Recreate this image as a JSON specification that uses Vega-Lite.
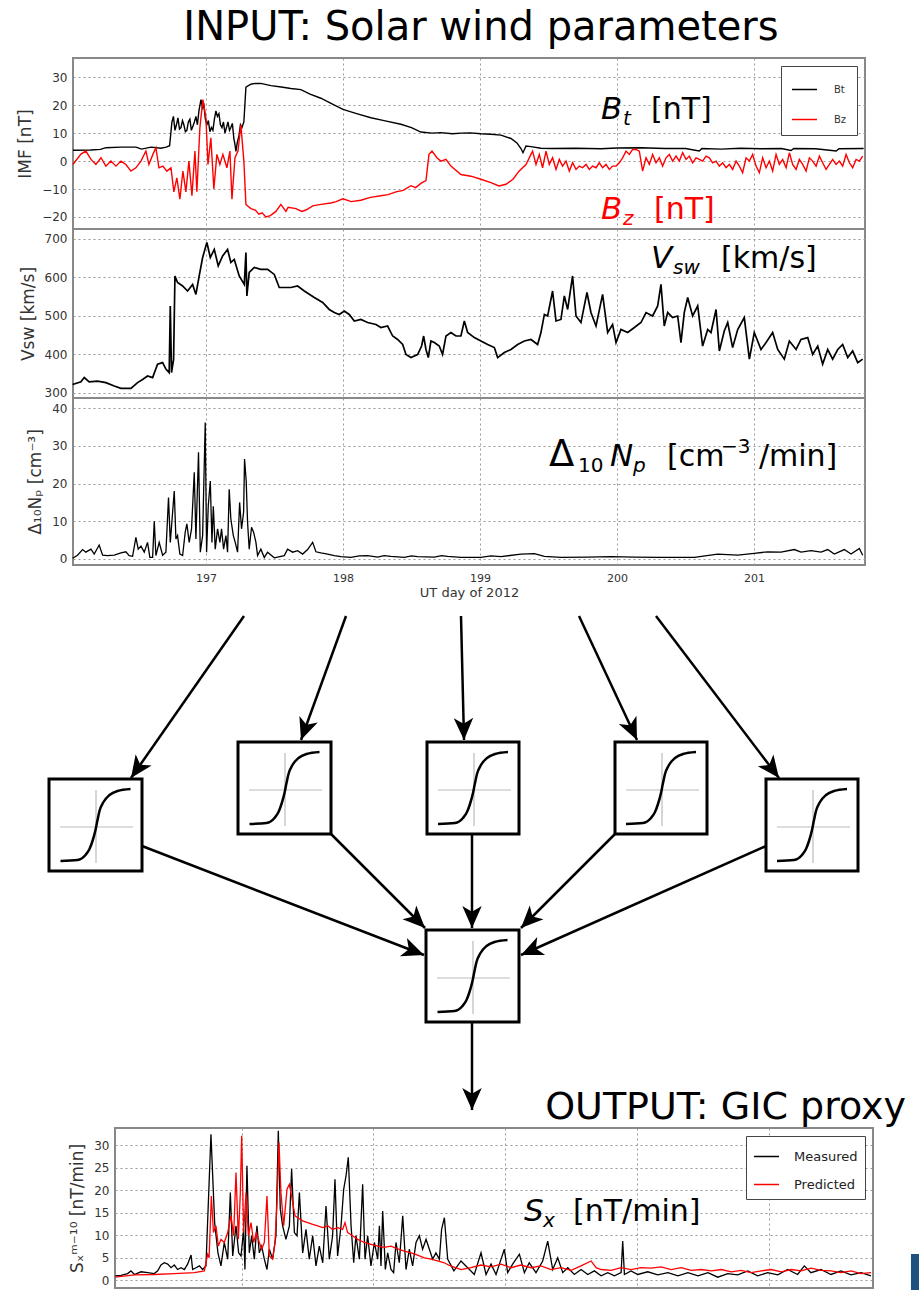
{
"$schema":"https://vega.github.io/schema/vega-lite/v6.json",
"background":"white",
"padding":0,
"autosize":{"type":"pad"},
"spacing":0,
"bounds":"flush",
"config":{
 "font":"DejaVu Sans",
 "view":{"stroke":"#888","strokeWidth":2},
 "axis":{"grid":true,"gridDash":[2,3],"gridColor":"#999","gridWidth":1,"ticks":false,"tickSize":0,"domain":false,"labelOverlap":false,"labelFont":"DejaVu Sans","labelFontSize":12,"labelColor":"#333","labelPadding":6,"titleFont":"DejaVu Sans","titleFontSize":17,"titleFontWeight":"normal","titleColor":"#333","titlePadding":7},
 "text":{"font":"DejaVu Sans","align":"left","baseline":"alphabetic"}
},
"resolve":{"scale":{"x":"independent","y":"independent","color":"independent"},"legend":{"color":"independent"},"axis":{"x":"independent","y":"independent"}},
"datasets":{
"imf":[
{"s":"Bt","t":196.03,"v":3.9},{"s":"Bt","t":196.16,"v":4},{"s":"Bt","t":196.23,"v":4.2},{"s":"Bt","t":196.27,"v":4.8},{"s":"Bt","t":196.38,"v":5},{"s":"Bt","t":196.49,"v":5},{"s":"Bt","t":196.53,"v":4.3},{"s":"Bt","t":196.6,"v":5},{"s":"Bt","t":196.67,"v":4.6},{"s":"Bt","t":196.71,"v":5},{"s":"Bt","t":196.735,"v":5.5},{"s":"Bt","t":196.752,"v":14},{"s":"Bt","t":196.763,"v":16},{"s":"Bt","t":196.774,"v":11},{"s":"Bt","t":196.785,"v":13},{"s":"Bt","t":196.796,"v":15.5},{"s":"Bt","t":196.807,"v":11.5},{"s":"Bt","t":196.818,"v":12},{"s":"Bt","t":196.829,"v":14.5},{"s":"Bt","t":196.839,"v":13},{"s":"Bt","t":196.85,"v":10.5},{"s":"Bt","t":196.861,"v":11},{"s":"Bt","t":196.872,"v":14},{"s":"Bt","t":196.883,"v":15},{"s":"Bt","t":196.894,"v":11},{"s":"Bt","t":196.905,"v":12.5},{"s":"Bt","t":196.916,"v":14},{"s":"Bt","t":196.927,"v":16},{"s":"Bt","t":196.938,"v":13},{"s":"Bt","t":196.949,"v":18},{"s":"Bt","t":196.964,"v":22},{"s":"Bt","t":196.975,"v":19},{"s":"Bt","t":196.985,"v":20},{"s":"Bt","t":196.996,"v":15},{"s":"Bt","t":197.007,"v":13},{"s":"Bt","t":197.018,"v":14.5},{"s":"Bt","t":197.029,"v":10.5},{"s":"Bt","t":197.04,"v":12},{"s":"Bt","t":197.051,"v":11},{"s":"Bt","t":197.062,"v":15},{"s":"Bt","t":197.073,"v":18},{"s":"Bt","t":197.084,"v":16},{"s":"Bt","t":197.095,"v":17},{"s":"Bt","t":197.106,"v":13},{"s":"Bt","t":197.117,"v":12},{"s":"Bt","t":197.128,"v":14},{"s":"Bt","t":197.139,"v":10},{"s":"Bt","t":197.15,"v":12},{"s":"Bt","t":197.161,"v":14},{"s":"Bt","t":197.172,"v":11},{"s":"Bt","t":197.182,"v":12},{"s":"Bt","t":197.193,"v":13.5},{"s":"Bt","t":197.204,"v":8},{"s":"Bt","t":197.212,"v":6},{"s":"Bt","t":197.219,"v":3.5},{"s":"Bt","t":197.23,"v":7},{"s":"Bt","t":197.241,"v":9},{"s":"Bt","t":197.252,"v":13},{"s":"Bt","t":197.263,"v":12},{"s":"Bt","t":197.277,"v":14},{"s":"Bt","t":197.292,"v":26.5},{"s":"Bt","t":197.328,"v":27.5},{"s":"Bt","t":197.36,"v":27.8},{"s":"Bt","t":197.401,"v":27.8},{"s":"Bt","t":197.474,"v":27},{"s":"Bt","t":197.55,"v":26.5},{"s":"Bt","t":197.62,"v":26},{"s":"Bt","t":197.693,"v":25.6},{"s":"Bt","t":197.76,"v":24},{"s":"Bt","t":197.839,"v":22.5},{"s":"Bt","t":197.92,"v":20.5},{"s":"Bt","t":198.0,"v":18.5},{"s":"Bt","t":198.1,"v":17},{"s":"Bt","t":198.204,"v":15.5},{"s":"Bt","t":198.3,"v":14.5},{"s":"Bt","t":198.423,"v":13.2},{"s":"Bt","t":198.5,"v":12},{"s":"Bt","t":198.569,"v":10.4},{"s":"Bt","t":198.65,"v":10},{"s":"Bt","t":198.715,"v":10.2},{"s":"Bt","t":198.8,"v":9.8},{"s":"Bt","t":198.861,"v":10},{"s":"Bt","t":198.93,"v":10.1},{"s":"Bt","t":199.007,"v":9.8},{"s":"Bt","t":199.08,"v":9.6},{"s":"Bt","t":199.153,"v":9.3},{"s":"Bt","t":199.226,"v":8.1},{"s":"Bt","t":199.27,"v":6.5},{"s":"Bt","t":199.299,"v":4.5},{"s":"Bt","t":199.314,"v":3},{"s":"Bt","t":199.336,"v":5.4},{"s":"Bt","t":199.372,"v":5.2},{"s":"Bt","t":199.445,"v":4.6},{"s":"Bt","t":199.518,"v":4.5},{"s":"Bt","t":199.7,"v":4.6},{"s":"Bt","t":199.883,"v":4.4},{"s":"Bt","t":200.0,"v":4.7},{"s":"Bt","t":200.175,"v":4.8},{"s":"Bt","t":200.35,"v":4.5},{"s":"Bt","t":200.5,"v":4.5},{"s":"Bt","t":200.6,"v":3.6},{"s":"Bt","t":200.62,"v":4.5},{"s":"Bt","t":200.759,"v":4.3},{"s":"Bt","t":200.9,"v":4.6},{"s":"Bt","t":201.051,"v":4.4},{"s":"Bt","t":201.2,"v":4.5},{"s":"Bt","t":201.27,"v":3.8},{"s":"Bt","t":201.29,"v":4.5},{"s":"Bt","t":201.45,"v":4.4},{"s":"Bt","t":201.6,"v":3.6},{"s":"Bt","t":201.62,"v":4.4},{"s":"Bt","t":201.8,"v":4.5},
{"s":"Bz","t":196.029,"v":-1.2},{"s":"Bz","t":196.088,"v":2.5},{"s":"Bz","t":196.124,"v":3.6},{"s":"Bz","t":196.161,"v":0.6},{"s":"Bz","t":196.197,"v":-1.2},{"s":"Bz","t":196.234,"v":1.2},{"s":"Bz","t":196.27,"v":-1.8},{"s":"Bz","t":196.307,"v":0},{"s":"Bz","t":196.343,"v":-1.8},{"s":"Bz","t":196.38,"v":0},{"s":"Bz","t":196.416,"v":-1.2},{"s":"Bz","t":196.453,"v":-3.6},{"s":"Bz","t":196.489,"v":-2.4},{"s":"Bz","t":196.526,"v":0},{"s":"Bz","t":196.562,"v":3.6},{"s":"Bz","t":196.584,"v":-1.2},{"s":"Bz","t":196.613,"v":2.4},{"s":"Bz","t":196.635,"v":4.8},{"s":"Bz","t":196.657,"v":-2.4},{"s":"Bz","t":196.686,"v":-1.8},{"s":"Bz","t":196.715,"v":-3.6},{"s":"Bz","t":196.745,"v":-2.4},{"s":"Bz","t":196.766,"v":-11},{"s":"Bz","t":196.788,"v":-6},{"s":"Bz","t":196.81,"v":-13.6},{"s":"Bz","t":196.832,"v":-3.6},{"s":"Bz","t":196.854,"v":-11},{"s":"Bz","t":196.876,"v":0},{"s":"Bz","t":196.898,"v":-12.4},{"s":"Bz","t":196.92,"v":3.6},{"s":"Bz","t":196.934,"v":-11},{"s":"Bz","t":196.956,"v":12},{"s":"Bz","t":196.978,"v":22},{"s":"Bz","t":197.0,"v":15.5},{"s":"Bz","t":197.015,"v":-1.2},{"s":"Bz","t":197.036,"v":8.3},{"s":"Bz","t":197.058,"v":-10},{"s":"Bz","t":197.08,"v":2.4},{"s":"Bz","t":197.102,"v":-1.2},{"s":"Bz","t":197.124,"v":2.4},{"s":"Bz","t":197.153,"v":-2.4},{"s":"Bz","t":197.175,"v":3.6},{"s":"Bz","t":197.19,"v":-13.6},{"s":"Bz","t":197.212,"v":1.2},{"s":"Bz","t":197.234,"v":3.6},{"s":"Bz","t":197.255,"v":13},{"s":"Bz","t":197.277,"v":0},{"s":"Bz","t":197.292,"v":-15.5},{"s":"Bz","t":197.328,"v":-17},{"s":"Bz","t":197.36,"v":-17.5},{"s":"Bz","t":197.387,"v":-19},{"s":"Bz","t":197.41,"v":-18.5},{"s":"Bz","t":197.438,"v":-20},{"s":"Bz","t":197.47,"v":-19.5},{"s":"Bz","t":197.511,"v":-18},{"s":"Bz","t":197.547,"v":-15.5},{"s":"Bz","t":197.584,"v":-18},{"s":"Bz","t":197.6,"v":-16.5},{"s":"Bz","t":197.657,"v":-17},{"s":"Bz","t":197.7,"v":-18},{"s":"Bz","t":197.73,"v":-17.5},{"s":"Bz","t":197.78,"v":-16},{"s":"Bz","t":197.839,"v":-15.5},{"s":"Bz","t":197.912,"v":-15},{"s":"Bz","t":197.95,"v":-14.5},{"s":"Bz","t":198.0,"v":-13.5},{"s":"Bz","t":198.06,"v":-14.5},{"s":"Bz","t":198.131,"v":-14},{"s":"Bz","t":198.2,"v":-13},{"s":"Bz","t":198.277,"v":-12.4},{"s":"Bz","t":198.33,"v":-12},{"s":"Bz","t":198.387,"v":-11},{"s":"Bz","t":198.44,"v":-10.5},{"s":"Bz","t":198.496,"v":-8.8},{"s":"Bz","t":198.53,"v":-9.5},{"s":"Bz","t":198.569,"v":-8},{"s":"Bz","t":198.606,"v":-7},{"s":"Bz","t":198.628,"v":2.4},{"s":"Bz","t":198.65,"v":3.6},{"s":"Bz","t":198.686,"v":1.2},{"s":"Bz","t":198.715,"v":0},{"s":"Bz","t":198.752,"v":0.6},{"s":"Bz","t":198.788,"v":-1.8},{"s":"Bz","t":198.861,"v":-4.8},{"s":"Bz","t":198.934,"v":-5.4},{"s":"Bz","t":199.007,"v":-6.5},{"s":"Bz","t":199.08,"v":-7.7},{"s":"Bz","t":199.139,"v":-8.9},{"s":"Bz","t":199.19,"v":-8.3},{"s":"Bz","t":199.241,"v":-6.5},{"s":"Bz","t":199.285,"v":-3.6},{"s":"Bz","t":199.336,"v":-1.2},{"s":"Bz","t":199.372,"v":2.4},
{"s":"Bz","t":199.384,"v":3.57},{"s":"Bz","t":199.409,"v":-1.19},{"s":"Bz","t":199.433,"v":2.38},{"s":"Bz","t":199.457,"v":-2.38},{"s":"Bz","t":199.482,"v":3.57},{"s":"Bz","t":199.506,"v":-1.19},{"s":"Bz","t":199.53,"v":1.19},{"s":"Bz","t":199.555,"v":-2.98},{"s":"Bz","t":199.579,"v":0.6},{"s":"Bz","t":199.603,"v":-1.79},{"s":"Bz","t":199.628,"v":0},{"s":"Bz","t":199.652,"v":-3.57},{"s":"Bz","t":199.676,"v":-0.6},{"s":"Bz","t":199.701,"v":-2.98},{"s":"Bz","t":199.725,"v":-1.79},{"s":"Bz","t":199.749,"v":-2.38},{"s":"Bz","t":199.774,"v":-1.19},{"s":"Bz","t":199.798,"v":-2.98},{"s":"Bz","t":199.822,"v":-1.79},{"s":"Bz","t":199.847,"v":-2.38},{"s":"Bz","t":199.871,"v":-0.6},{"s":"Bz","t":199.895,"v":-2.38},{"s":"Bz","t":199.92,"v":-1.19},{"s":"Bz","t":199.944,"v":-2.98},{"s":"Bz","t":199.968,"v":-1.79},{"s":"Bz","t":199.993,"v":-1.79},{"s":"Bz","t":200.017,"v":-0.6},{"s":"Bz","t":200.041,"v":1.19},{"s":"Bz","t":200.066,"v":3.57},{"s":"Bz","t":200.09,"v":2.38},{"s":"Bz","t":200.114,"v":4.17},{"s":"Bz","t":200.139,"v":4.17},{"s":"Bz","t":200.163,"v":3.57},{"s":"Bz","t":200.187,"v":-3.57},{"s":"Bz","t":200.212,"v":1.19},{"s":"Bz","t":200.236,"v":-1.19},{"s":"Bz","t":200.26,"v":2.38},{"s":"Bz","t":200.285,"v":-0.6},{"s":"Bz","t":200.309,"v":1.19},{"s":"Bz","t":200.333,"v":-1.79},{"s":"Bz","t":200.358,"v":1.19},{"s":"Bz","t":200.382,"v":2.38},{"s":"Bz","t":200.406,"v":0},{"s":"Bz","t":200.431,"v":1.79},{"s":"Bz","t":200.455,"v":0},{"s":"Bz","t":200.479,"v":2.98},{"s":"Bz","t":200.504,"v":0.6},{"s":"Bz","t":200.528,"v":1.79},{"s":"Bz","t":200.552,"v":-0.6},{"s":"Bz","t":200.577,"v":1.19},{"s":"Bz","t":200.601,"v":0.6},{"s":"Bz","t":200.625,"v":0},{"s":"Bz","t":200.65,"v":1.79},{"s":"Bz","t":200.674,"v":1.19},{"s":"Bz","t":200.698,"v":-0.6},{"s":"Bz","t":200.723,"v":0},{"s":"Bz","t":200.747,"v":-1.79},{"s":"Bz","t":200.771,"v":-0.6},{"s":"Bz","t":200.796,"v":-2.38},{"s":"Bz","t":200.82,"v":-1.19},{"s":"Bz","t":200.844,"v":-2.98},{"s":"Bz","t":200.869,"v":0},{"s":"Bz","t":200.893,"v":-1.79},{"s":"Bz","t":200.917,"v":-4.17},{"s":"Bz","t":200.942,"v":1.19},{"s":"Bz","t":200.966,"v":0},{"s":"Bz","t":200.99,"v":2.38},{"s":"Bz","t":201.015,"v":-1.79},{"s":"Bz","t":201.039,"v":-4.17},{"s":"Bz","t":201.063,"v":1.19},{"s":"Bz","t":201.088,"v":-2.38},{"s":"Bz","t":201.112,"v":0},{"s":"Bz","t":201.136,"v":-3.57},{"s":"Bz","t":201.161,"v":2.38},{"s":"Bz","t":201.185,"v":-1.19},{"s":"Bz","t":201.209,"v":0.6},{"s":"Bz","t":201.234,"v":-2.38},{"s":"Bz","t":201.258,"v":2.98},{"s":"Bz","t":201.282,"v":-1.19},{"s":"Bz","t":201.307,"v":-2.98},{"s":"Bz","t":201.331,"v":0.6},{"s":"Bz","t":201.355,"v":-1.19},{"s":"Bz","t":201.38,"v":-3.57},{"s":"Bz","t":201.404,"v":1.19},{"s":"Bz","t":201.428,"v":0},{"s":"Bz","t":201.453,"v":-1.79},{"s":"Bz","t":201.477,"v":1.79},{"s":"Bz","t":201.501,"v":-0.6},{"s":"Bz","t":201.526,"v":-2.98},{"s":"Bz","t":201.55,"v":-1.19},{"s":"Bz","t":201.574,"v":0.6},{"s":"Bz","t":201.599,"v":-1.19},{"s":"Bz","t":201.623,"v":0},{"s":"Bz","t":201.647,"v":-1.79},{"s":"Bz","t":201.672,"v":2.38},{"s":"Bz","t":201.696,"v":-0.6},{"s":"Bz","t":201.72,"v":-2.38},{"s":"Bz","t":201.745,"v":0.6},{"s":"Bz","t":201.769,"v":0},{"s":"Bz","t":201.793,"v":1.79}
],
"vsw":[
{"t":196.027,"v":321},{"t":196.088,"v":328},{"t":196.112,"v":339},{"t":196.148,"v":328},{"t":196.209,"v":330},{"t":196.27,"v":326},{"t":196.331,"v":317},{"t":196.38,"v":311},{"t":196.453,"v":311},{"t":196.501,"v":326},{"t":196.538,"v":334},{"t":196.574,"v":343},{"t":196.611,"v":339},{"t":196.647,"v":374},{"t":196.684,"v":378},{"t":196.708,"v":361},{"t":196.732,"v":352},{"t":196.74,"v":525},{"t":196.749,"v":352},{"t":196.764,"v":386},{"t":196.774,"v":603},{"t":196.793,"v":586},{"t":196.83,"v":577},{"t":196.866,"v":564},{"t":196.903,"v":581},{"t":196.927,"v":555},{"t":196.951,"v":603},{"t":196.976,"v":651},{"t":197.007,"v":690},{"t":197.032,"v":651},{"t":197.061,"v":672},{"t":197.09,"v":629},{"t":197.122,"v":655},{"t":197.158,"v":672},{"t":197.182,"v":638},{"t":197.207,"v":646},{"t":197.243,"v":603},{"t":197.28,"v":581},{"t":197.292,"v":664},{"t":197.299,"v":551},{"t":197.316,"v":612},{"t":197.353,"v":625},{"t":197.401,"v":620},{"t":197.45,"v":620},{"t":197.499,"v":607},{"t":197.535,"v":573},{"t":197.572,"v":573},{"t":197.62,"v":573},{"t":197.669,"v":577},{"t":197.718,"v":564},{"t":197.791,"v":547},{"t":197.852,"v":534},{"t":197.9,"v":516},{"t":197.937,"v":508},{"t":197.973,"v":503},{"t":198.01,"v":512},{"t":198.046,"v":503},{"t":198.083,"v":486},{"t":198.131,"v":490},{"t":198.18,"v":482},{"t":198.241,"v":477},{"t":198.277,"v":469},{"t":198.326,"v":473},{"t":198.363,"v":447},{"t":198.399,"v":438},{"t":198.436,"v":425},{"t":198.46,"v":399},{"t":198.496,"v":391},{"t":198.545,"v":399},{"t":198.574,"v":421},{"t":198.589,"v":447},{"t":198.606,"v":412},{"t":198.623,"v":391},{"t":198.642,"v":434},{"t":198.667,"v":430},{"t":198.703,"v":421},{"t":198.727,"v":399},{"t":198.752,"v":447},{"t":198.788,"v":456},{"t":198.825,"v":447},{"t":198.861,"v":447},{"t":198.886,"v":486},{"t":198.91,"v":456},{"t":198.959,"v":443},{"t":199.007,"v":434},{"t":199.056,"v":425},{"t":199.105,"v":417},{"t":199.129,"v":391},{"t":199.178,"v":404},{"t":199.226,"v":412},{"t":199.275,"v":425},{"t":199.324,"v":434},{"t":199.372,"v":438},{"t":199.421,"v":425},{"t":199.445,"v":456},{"t":199.47,"v":503},{"t":199.494,"v":499},{"t":199.53,"v":564},{"t":199.555,"v":486},{"t":199.591,"v":490},{"t":199.616,"v":551},{"t":199.64,"v":516},{"t":199.676,"v":603},{"t":199.701,"v":499},{"t":199.737,"v":482},{"t":199.781,"v":560},{"t":199.81,"v":508},{"t":199.847,"v":473},{"t":199.895,"v":555},{"t":199.932,"v":456},{"t":199.968,"v":477},{"t":199.993,"v":430},{"t":200.029,"v":464},{"t":200.078,"v":456},{"t":200.127,"v":469},{"t":200.175,"v":482},{"t":200.212,"v":508},{"t":200.26,"v":499},{"t":200.297,"v":525},{"t":200.321,"v":581},{"t":200.345,"v":473},{"t":200.37,"v":508},{"t":200.406,"v":495},{"t":200.443,"v":499},{"t":200.467,"v":430},{"t":200.491,"v":508},{"t":200.516,"v":547},{"t":200.552,"v":499},{"t":200.589,"v":525},{"t":200.625,"v":421},{"t":200.662,"v":464},{"t":200.686,"v":456},{"t":200.723,"v":516},{"t":200.747,"v":408},{"t":200.783,"v":460},{"t":200.808,"v":482},{"t":200.844,"v":417},{"t":200.881,"v":464},{"t":200.929,"v":495},{"t":200.966,"v":387},{"t":201.002,"v":456},{"t":201.051,"v":412},{"t":201.088,"v":430},{"t":201.136,"v":456},{"t":201.173,"v":412},{"t":201.221,"v":387},{"t":201.258,"v":434},{"t":201.307,"v":412},{"t":201.343,"v":438},{"t":201.392,"v":443},{"t":201.428,"v":399},{"t":201.465,"v":421},{"t":201.501,"v":374},{"t":201.538,"v":412},{"t":201.574,"v":387},{"t":201.611,"v":412},{"t":201.647,"v":425},{"t":201.684,"v":391},{"t":201.72,"v":408},{"t":201.757,"v":378},{"t":201.793,"v":387}
],
"np":[
{"t":196.027,"v":0.2},{"t":196.063,"v":1},{"t":196.1,"v":2.5},{"t":196.124,"v":1.8},{"t":196.161,"v":2.6},{"t":196.185,"v":1.3},{"t":196.221,"v":3.7},{"t":196.246,"v":1},{"t":196.282,"v":0.9},{"t":196.331,"v":1},{"t":196.38,"v":1.6},{"t":196.416,"v":1.9},{"t":196.44,"v":0.9},{"t":196.465,"v":0.7},{"t":196.489,"v":5.7},{"t":196.506,"v":2.6},{"t":196.526,"v":3.4},{"t":196.55,"v":1.8},{"t":196.574,"v":4.4},{"t":196.591,"v":0.4},{"t":196.611,"v":0.4},{"t":196.623,"v":10},{"t":196.635,"v":0.9},{"t":196.659,"v":4.4},{"t":196.684,"v":1},{"t":196.708,"v":1.8},{"t":196.727,"v":16.3},{"t":196.74,"v":4.4},{"t":196.757,"v":12.4},{"t":196.769,"v":18},{"t":196.781,"v":5.3},{"t":196.793,"v":6.2},{"t":196.81,"v":1.3},{"t":196.83,"v":0.9},{"t":196.849,"v":7.1},{"t":196.861,"v":9.3},{"t":196.878,"v":4.4},{"t":196.895,"v":8},{"t":196.915,"v":23},{"t":196.927,"v":5.3},{"t":196.946,"v":28.3},{"t":196.959,"v":1.8},{"t":196.976,"v":6.2},{"t":196.995,"v":36.2},{"t":197.005,"v":1.8},{"t":197.017,"v":14},{"t":197.032,"v":20.7},{"t":197.044,"v":4.4},{"t":197.054,"v":14},{"t":197.068,"v":2.6},{"t":197.085,"v":8},{"t":197.102,"v":4.4},{"t":197.114,"v":8},{"t":197.129,"v":2.6},{"t":197.146,"v":6.2},{"t":197.158,"v":1.8},{"t":197.17,"v":18.5},{"t":197.182,"v":10.6},{"t":197.2,"v":6.2},{"t":197.214,"v":4.4},{"t":197.231,"v":1.8},{"t":197.246,"v":15},{"t":197.26,"v":8},{"t":197.275,"v":12.4},{"t":197.282,"v":26.5},{"t":197.294,"v":20.7},{"t":197.304,"v":9.7},{"t":197.316,"v":2.6},{"t":197.333,"v":8.4},{"t":197.348,"v":7.1},{"t":197.365,"v":4.4},{"t":197.377,"v":0.9},{"t":197.401,"v":2.6},{"t":197.426,"v":0.4},{"t":197.45,"v":1.8},{"t":197.499,"v":0.3},{"t":197.572,"v":0.9},{"t":197.596,"v":2.6},{"t":197.633,"v":1.8},{"t":197.669,"v":2.2},{"t":197.706,"v":1.3},{"t":197.742,"v":2.5},{"t":197.779,"v":4.4},{"t":197.803,"v":1.9},{"t":197.839,"v":1.6},{"t":197.888,"v":1.3},{"t":197.937,"v":0.9},{"t":197.985,"v":0.6},{"t":198.058,"v":0.4},{"t":198.12,"v":0.8},{"t":198.18,"v":0.9},{"t":198.253,"v":0.5},{"t":198.3,"v":0.9},{"t":198.35,"v":0.7},{"t":198.448,"v":0.4},{"t":198.5,"v":0.8},{"t":198.545,"v":0.6},{"t":198.667,"v":0.5},{"t":198.72,"v":0.9},{"t":198.764,"v":0.7},{"t":198.861,"v":0.4},{"t":199.007,"v":0.4},{"t":199.08,"v":0.8},{"t":199.153,"v":0.6},{"t":199.299,"v":1.3},{"t":199.397,"v":1.4},{"t":199.47,"v":0.7},{"t":199.591,"v":0.4},{"t":199.786,"v":0.5},{"t":199.956,"v":0.6},{"t":200.127,"v":0.5},{"t":200.321,"v":0.4},{"t":200.564,"v":0.4},{"t":200.735,"v":1.3},{"t":200.881,"v":1},{"t":201.002,"v":1.5},{"t":201.1,"v":1.9},{"t":201.197,"v":1.8},{"t":201.294,"v":2.5},{"t":201.343,"v":1.8},{"t":201.416,"v":2.2},{"t":201.489,"v":1.8},{"t":201.538,"v":2.5},{"t":201.586,"v":1.3},{"t":201.659,"v":2.5},{"t":201.708,"v":1.3},{"t":201.769,"v":2.8},{"t":201.793,"v":1}
],
"sx":[
{"s":"Measured","t":196.041,"v":1},{"s":"Measured","t":196.084,"v":1.1},{"s":"Measured","t":196.135,"v":1.5},{"s":"Measured","t":196.16,"v":2.1},{"s":"Measured","t":196.186,"v":1.3},{"s":"Measured","t":196.236,"v":1.9},{"s":"Measured","t":196.287,"v":1.7},{"s":"Measured","t":196.337,"v":1.5},{"s":"Measured","t":196.363,"v":2.1},{"s":"Measured","t":196.388,"v":3.4},{"s":"Measured","t":196.413,"v":3.9},{"s":"Measured","t":196.439,"v":3.6},{"s":"Measured","t":196.464,"v":2.8},{"s":"Measured","t":196.489,"v":3.4},{"s":"Measured","t":196.514,"v":2.4},{"s":"Measured","t":196.54,"v":2.8},{"s":"Measured","t":196.565,"v":2.4},{"s":"Measured","t":196.59,"v":3.6},{"s":"Measured","t":196.616,"v":5.6},{"s":"Measured","t":196.628,"v":2.4},{"s":"Measured","t":196.654,"v":2.8},{"s":"Measured","t":196.679,"v":3.2},{"s":"Measured","t":196.704,"v":2.4},{"s":"Measured","t":196.729,"v":3.2},{"s":"Measured","t":196.767,"v":32.4},{"s":"Measured","t":196.795,"v":12.8},{"s":"Measured","t":196.82,"v":6.1},{"s":"Measured","t":196.843,"v":3.2},{"s":"Measured","t":196.868,"v":8.4},{"s":"Measured","t":196.894,"v":4.7},{"s":"Measured","t":196.914,"v":19.5},{"s":"Measured","t":196.932,"v":5.4},{"s":"Measured","t":196.957,"v":12.1},{"s":"Measured","t":196.977,"v":6.1},{"s":"Measured","t":196.995,"v":5.4},{"s":"Measured","t":197.015,"v":11.3},{"s":"Measured","t":197.025,"v":2.4},{"s":"Measured","t":197.04,"v":25.4},{"s":"Measured","t":197.058,"v":6.1},{"s":"Measured","t":197.076,"v":9.9},{"s":"Measured","t":197.096,"v":4.7},{"s":"Measured","t":197.116,"v":12.1},{"s":"Measured","t":197.134,"v":6.1},{"s":"Measured","t":197.152,"v":7.6},{"s":"Measured","t":197.172,"v":4.7},{"s":"Measured","t":197.192,"v":2.4},{"s":"Measured","t":197.21,"v":6.9},{"s":"Measured","t":197.235,"v":4.7},{"s":"Measured","t":197.26,"v":9.9},{"s":"Measured","t":197.278,"v":33.2},{"s":"Measured","t":197.293,"v":15.8},{"s":"Measured","t":197.311,"v":12.1},{"s":"Measured","t":197.336,"v":9.1},{"s":"Measured","t":197.362,"v":12.1},{"s":"Measured","t":197.379,"v":24.7},{"s":"Measured","t":197.4,"v":10.6},{"s":"Measured","t":197.42,"v":9.9},{"s":"Measured","t":197.438,"v":19.5},{"s":"Measured","t":197.463,"v":6.1},{"s":"Measured","t":197.488,"v":11.3},{"s":"Measured","t":197.513,"v":4.7},{"s":"Measured","t":197.539,"v":9.9},{"s":"Measured","t":197.564,"v":3.2},{"s":"Measured","t":197.589,"v":7.6},{"s":"Measured","t":197.615,"v":3.9},{"s":"Measured","t":197.64,"v":16.5},{"s":"Measured","t":197.665,"v":4.7},{"s":"Measured","t":197.69,"v":9.9},{"s":"Measured","t":197.708,"v":22.4},{"s":"Measured","t":197.728,"v":5.4},{"s":"Measured","t":197.754,"v":12.1},{"s":"Measured","t":197.774,"v":20.2},{"s":"Measured","t":197.792,"v":23.2},{"s":"Measured","t":197.809,"v":27.3},{"s":"Measured","t":197.83,"v":12.1},{"s":"Measured","t":197.85,"v":3.9},{"s":"Measured","t":197.867,"v":9.9},{"s":"Measured","t":197.893,"v":4.7},{"s":"Measured","t":197.918,"v":21.3},{"s":"Measured","t":197.936,"v":4.7},{"s":"Measured","t":197.956,"v":9.9},{"s":"Measured","t":197.981,"v":3.2},{"s":"Measured","t":198.007,"v":8.4},{"s":"Measured","t":198.032,"v":4.7},{"s":"Measured","t":198.045,"v":12.1},{"s":"Measured","t":198.057,"v":3.2},{"s":"Measured","t":198.07,"v":15.4},{"s":"Measured","t":198.09,"v":2.4},{"s":"Measured","t":198.108,"v":6.1},{"s":"Measured","t":198.133,"v":2.4},{"s":"Measured","t":198.153,"v":1.7},{"s":"Measured","t":198.171,"v":8.4},{"s":"Measured","t":198.196,"v":3.9},{"s":"Measured","t":198.222,"v":14.3},{"s":"Measured","t":198.247,"v":2.4},{"s":"Measured","t":198.272,"v":6.9},{"s":"Measured","t":198.297,"v":3.2},{"s":"Measured","t":198.323,"v":8.4},{"s":"Measured","t":198.348,"v":9.9},{"s":"Measured","t":198.373,"v":6.9},{"s":"Measured","t":198.399,"v":9.1},{"s":"Measured","t":198.424,"v":6.9},{"s":"Measured","t":198.449,"v":4.7},{"s":"Measured","t":198.474,"v":6.1},{"s":"Measured","t":198.5,"v":4.7},{"s":"Measured","t":198.517,"v":11.3},{"s":"Measured","t":198.538,"v":13.9},{"s":"Measured","t":198.563,"v":4.7},{"s":"Measured","t":198.61,"v":2.1},{"s":"Measured","t":198.664,"v":4.3},{"s":"Measured","t":198.715,"v":2.8},{"s":"Measured","t":198.765,"v":1.3},{"s":"Measured","t":198.816,"v":6.1},{"s":"Measured","t":198.854,"v":1.3},{"s":"Measured","t":198.892,"v":3.6},{"s":"Measured","t":198.93,"v":1.3},{"s":"Measured","t":198.968,"v":4.7},{"s":"Measured","t":198.993,"v":6.9},{"s":"Measured","t":199.018,"v":1.7},{"s":"Measured","t":199.056,"v":3.6},{"s":"Measured","t":199.107,"v":5.8},{"s":"Measured","t":199.145,"v":1.7},{"s":"Measured","t":199.182,"v":3.9},{"s":"Measured","t":199.233,"v":1.7},{"s":"Measured","t":199.284,"v":4.3},{"s":"Measured","t":199.322,"v":8.7},{"s":"Measured","t":199.36,"v":2.4},{"s":"Measured","t":199.398,"v":5},{"s":"Measured","t":199.436,"v":1.7},{"s":"Measured","t":199.474,"v":2.8},{"s":"Measured","t":199.524,"v":1.3},{"s":"Measured","t":199.575,"v":2.4},{"s":"Measured","t":199.626,"v":1.3},{"s":"Measured","t":199.676,"v":2.1},{"s":"Measured","t":199.727,"v":1},{"s":"Measured","t":199.778,"v":1.7},{"s":"Measured","t":199.828,"v":1},{"s":"Measured","t":199.879,"v":1.7},{"s":"Measured","t":199.891,"v":8.7},{"s":"Measured","t":199.904,"v":1.3},{"s":"Measured","t":199.954,"v":2.1},{"s":"Measured","t":200.005,"v":1.3},{"s":"Measured","t":200.081,"v":1.9},{"s":"Measured","t":200.157,"v":1.2},{"s":"Measured","t":200.234,"v":1.7},{"s":"Measured","t":200.31,"v":1},{"s":"Measured","t":200.386,"v":1.7},{"s":"Measured","t":200.462,"v":1},{"s":"Measured","t":200.538,"v":1.7},{"s":"Measured","t":200.612,"v":0.7},{"s":"Measured","t":200.688,"v":1.5},{"s":"Measured","t":200.764,"v":1.2},{"s":"Measured","t":200.84,"v":2.1},{"s":"Measured","t":200.915,"v":1},{"s":"Measured","t":200.991,"v":1.7},{"s":"Measured","t":201.067,"v":1.2},{"s":"Measured","t":201.142,"v":2.4},{"s":"Measured","t":201.218,"v":1.3},{"s":"Measured","t":201.269,"v":3.2},{"s":"Measured","t":201.319,"v":1.7},{"s":"Measured","t":201.395,"v":2.4},{"s":"Measured","t":201.471,"v":1.3},{"s":"Measured","t":201.547,"v":2.1},{"s":"Measured","t":201.623,"v":1.2},{"s":"Measured","t":201.699,"v":1.7},{"s":"Measured","t":201.775,"v":1},
{"s":"Predicted","t":196.041,"v":0.7},{"s":"Predicted","t":196.186,"v":1.2},{"s":"Predicted","t":196.337,"v":1.3},{"s":"Predicted","t":196.489,"v":1.5},{"s":"Predicted","t":196.641,"v":1.7},{"s":"Predicted","t":196.717,"v":2.1},{"s":"Predicted","t":196.742,"v":5.8},{"s":"Predicted","t":196.753,"v":5},{"s":"Predicted","t":196.77,"v":18.7},{"s":"Predicted","t":196.786,"v":10.6},{"s":"Predicted","t":196.805,"v":12.1},{"s":"Predicted","t":196.823,"v":7.6},{"s":"Predicted","t":196.843,"v":9.1},{"s":"Predicted","t":196.868,"v":8.4},{"s":"Predicted","t":196.894,"v":10.6},{"s":"Predicted","t":196.919,"v":14.3},{"s":"Predicted","t":196.939,"v":9.9},{"s":"Predicted","t":196.957,"v":23.9},{"s":"Predicted","t":196.975,"v":9.1},{"s":"Predicted","t":196.99,"v":19.5},{"s":"Predicted","t":197.0,"v":32.1},{"s":"Predicted","t":197.015,"v":10.6},{"s":"Predicted","t":197.033,"v":19.5},{"s":"Predicted","t":197.051,"v":9.9},{"s":"Predicted","t":197.071,"v":12.8},{"s":"Predicted","t":197.091,"v":8.4},{"s":"Predicted","t":197.111,"v":10.6},{"s":"Predicted","t":197.134,"v":8.4},{"s":"Predicted","t":197.152,"v":6.9},{"s":"Predicted","t":197.172,"v":8.4},{"s":"Predicted","t":197.192,"v":18.7},{"s":"Predicted","t":197.21,"v":5.4},{"s":"Predicted","t":197.235,"v":4.7},{"s":"Predicted","t":197.253,"v":8.4},{"s":"Predicted","t":197.268,"v":17.3},{"s":"Predicted","t":197.283,"v":30.6},{"s":"Predicted","t":197.298,"v":19.5},{"s":"Predicted","t":197.319,"v":12.1},{"s":"Predicted","t":197.344,"v":20.2},{"s":"Predicted","t":197.362,"v":21.3},{"s":"Predicted","t":197.387,"v":17.3},{"s":"Predicted","t":197.405,"v":14.3},{"s":"Predicted","t":197.425,"v":13.9},{"s":"Predicted","t":197.463,"v":13.2},{"s":"Predicted","t":197.501,"v":12.8},{"s":"Predicted","t":197.539,"v":12.4},{"s":"Predicted","t":197.577,"v":12.1},{"s":"Predicted","t":197.615,"v":11.7},{"s":"Predicted","t":197.653,"v":12.1},{"s":"Predicted","t":197.69,"v":11.3},{"s":"Predicted","t":197.728,"v":11.7},{"s":"Predicted","t":197.766,"v":11.3},{"s":"Predicted","t":197.784,"v":12.8},{"s":"Predicted","t":197.804,"v":10.6},{"s":"Predicted","t":197.842,"v":9.9},{"s":"Predicted","t":197.88,"v":9.1},{"s":"Predicted","t":197.931,"v":8.4},{"s":"Predicted","t":197.981,"v":8},{"s":"Predicted","t":198.032,"v":7.6},{"s":"Predicted","t":198.082,"v":7.3},{"s":"Predicted","t":198.133,"v":7.6},{"s":"Predicted","t":198.184,"v":7},{"s":"Predicted","t":198.234,"v":6.5},{"s":"Predicted","t":198.285,"v":6.1},{"s":"Predicted","t":198.335,"v":5.6},{"s":"Predicted","t":198.386,"v":5},{"s":"Predicted","t":198.437,"v":4.7},{"s":"Predicted","t":198.487,"v":4.3},{"s":"Predicted","t":198.538,"v":3.9},{"s":"Predicted","t":198.576,"v":3.3},{"s":"Predicted","t":198.664,"v":2.4},{"s":"Predicted","t":198.74,"v":2.8},{"s":"Predicted","t":198.816,"v":3.4},{"s":"Predicted","t":198.892,"v":3},{"s":"Predicted","t":198.968,"v":3.6},{"s":"Predicted","t":199.043,"v":2.8},{"s":"Predicted","t":199.119,"v":3.4},{"s":"Predicted","t":199.195,"v":2.8},{"s":"Predicted","t":199.271,"v":3.2},{"s":"Predicted","t":199.347,"v":2.4},{"s":"Predicted","t":199.423,"v":2.8},{"s":"Predicted","t":199.499,"v":2.2},{"s":"Predicted","t":199.575,"v":3.2},{"s":"Predicted","t":199.651,"v":4.3},{"s":"Predicted","t":199.689,"v":2.8},{"s":"Predicted","t":199.727,"v":2.4},{"s":"Predicted","t":199.803,"v":2.2},{"s":"Predicted","t":199.879,"v":2.8},{"s":"Predicted","t":199.954,"v":2.4},{"s":"Predicted","t":200.03,"v":2.8},{"s":"Predicted","t":200.106,"v":2.7},{"s":"Predicted","t":200.182,"v":3},{"s":"Predicted","t":200.259,"v":2.4},{"s":"Predicted","t":200.335,"v":2.8},{"s":"Predicted","t":200.411,"v":2.2},{"s":"Predicted","t":200.487,"v":2.4},{"s":"Predicted","t":200.563,"v":2.1},{"s":"Predicted","t":200.639,"v":2.4},{"s":"Predicted","t":200.715,"v":1.9},{"s":"Predicted","t":200.79,"v":2.2},{"s":"Predicted","t":200.866,"v":1.7},{"s":"Predicted","t":200.942,"v":2.1},{"s":"Predicted","t":201.018,"v":2.4},{"s":"Predicted","t":201.094,"v":1.9},{"s":"Predicted","t":201.17,"v":2.4},{"s":"Predicted","t":201.244,"v":2.1},{"s":"Predicted","t":201.32,"v":2.7},{"s":"Predicted","t":201.396,"v":2.2},{"s":"Predicted","t":201.472,"v":2.1},{"s":"Predicted","t":201.547,"v":1.7},{"s":"Predicted","t":201.623,"v":2.1},{"s":"Predicted","t":201.699,"v":1.5},{"s":"Predicted","t":201.775,"v":1.7}
],
"arrows":[
{"x0":243,"y0":615,"x1":130,"y1":777},{"x0":345,"y0":615,"x1":300,"y1":739},{"x0":460,"y0":615,"x1":463,"y1":739},{"x0":578,"y0":615,"x1":636,"y1":739},{"x0":655,"y0":615,"x1":778,"y1":777},
{"x0":141,"y0":845,"x1":423,"y1":954},{"x0":330,"y0":833,"x1":424,"y1":927},{"x0":471,"y0":833,"x1":471,"y1":927},{"x0":614,"y0":833,"x1":520,"y1":927},{"x0":765,"y0":845,"x1":520,"y1":954},{"x0":471,"y0":1021,"x1":471,"y1":1109}
],
"nodes":[
{"x0":48,"x1":141,"y0":778,"y1":870},{"x0":237,"x1":330,"y0":741,"y1":833},{"x0":426,"x1":518,"y0":741,"y1":833},{"x0":614,"x1":706,"y0":741,"y1":833},{"x0":765,"x1":857,"y0":778,"y1":870},{"x0":425,"x1":518,"y0":929,"y1":1021}
],
"cross":[
{"x0":59,"x1":132,"y0":826,"y1":826},{"x0":95,"x1":95,"y0":789,"y1":862},
{"x0":248,"x1":321,"y0":789,"y1":789},{"x0":284,"x1":284,"y0":752,"y1":825},
{"x0":437,"x1":510,"y0":789,"y1":789},{"x0":473,"x1":473,"y0":752,"y1":825},
{"x0":625,"x1":698,"y0":789,"y1":789},{"x0":661,"x1":661,"y0":752,"y1":825},
{"x0":776,"x1":849,"y0":826,"y1":826},{"x0":812,"x1":812,"y0":789,"y1":862},
{"x0":436,"x1":509,"y0":977,"y1":977},{"x0":472,"x1":472,"y0":940,"y1":1013}
],
"sig":[
{"n":"B1","x":59.5,"y":860},{"n":"B1","x":76.5,"y":859},{"n":"B1","x":84.5,"y":854},{"n":"B1","x":88.5,"y":848},{"n":"B1","x":91.5,"y":840},{"n":"B1","x":94.5,"y":829},{"n":"B1","x":96.5,"y":819},{"n":"B1","x":98.5,"y":810},{"n":"B1","x":102.5,"y":801},{"n":"B1","x":108.5,"y":794},{"n":"B1","x":116.5,"y":790},{"n":"B1","x":129.5,"y":788},
{"n":"B2","x":248.5,"y":823},{"n":"B2","x":265.5,"y":822},{"n":"B2","x":273.5,"y":817},{"n":"B2","x":277.5,"y":811},{"n":"B2","x":280.5,"y":803},{"n":"B2","x":283.5,"y":792},{"n":"B2","x":285.5,"y":782},{"n":"B2","x":287.5,"y":773},{"n":"B2","x":291.5,"y":764},{"n":"B2","x":297.5,"y":757},{"n":"B2","x":305.5,"y":753},{"n":"B2","x":318.5,"y":751},
{"n":"B3","x":437,"y":823},{"n":"B3","x":454,"y":822},{"n":"B3","x":462,"y":817},{"n":"B3","x":466,"y":811},{"n":"B3","x":469,"y":803},{"n":"B3","x":472,"y":792},{"n":"B3","x":474,"y":782},{"n":"B3","x":476,"y":773},{"n":"B3","x":480,"y":764},{"n":"B3","x":486,"y":757},{"n":"B3","x":494,"y":753},{"n":"B3","x":507,"y":751},
{"n":"B4","x":625,"y":823},{"n":"B4","x":642,"y":822},{"n":"B4","x":650,"y":817},{"n":"B4","x":654,"y":811},{"n":"B4","x":657,"y":803},{"n":"B4","x":660,"y":792},{"n":"B4","x":662,"y":782},{"n":"B4","x":664,"y":773},{"n":"B4","x":668,"y":764},{"n":"B4","x":674,"y":757},{"n":"B4","x":682,"y":753},{"n":"B4","x":695,"y":751},
{"n":"B5","x":776,"y":860},{"n":"B5","x":793,"y":859},{"n":"B5","x":801,"y":854},{"n":"B5","x":805,"y":848},{"n":"B5","x":808,"y":840},{"n":"B5","x":811,"y":829},{"n":"B5","x":813,"y":819},{"n":"B5","x":815,"y":810},{"n":"B5","x":819,"y":801},{"n":"B5","x":825,"y":794},{"n":"B5","x":833,"y":790},{"n":"B5","x":846,"y":788},
{"n":"O","x":436.5,"y":1011},{"n":"O","x":453.5,"y":1010},{"n":"O","x":461.5,"y":1005},{"n":"O","x":465.5,"y":999},{"n":"O","x":468.5,"y":991},{"n":"O","x":471.5,"y":980},{"n":"O","x":473.5,"y":970},{"n":"O","x":475.5,"y":961},{"n":"O","x":479.5,"y":952},{"n":"O","x":485.5,"y":945},{"n":"O","x":493.5,"y":941},{"n":"O","x":506.5,"y":939}
]
},
"vconcat":[
{
 "width":792,"height":171,
 "title":{"text":"INPUT: Solar wind parameters","fontSize":40,"font":"DejaVu Sans","fontWeight":"normal","anchor":"middle","frame":"group","dx":12,"offset":-22,"baseline":"alphabetic","color":"black"},
 "encoding":{
  "x":{"field":"t","type":"quantitative","scale":{"domain":[196.03,201.81],"nice":false,"zero":false},"axis":{"values":[197,198,199,200,201],"labels":false,"title":null}},
  "y":{"field":"v","type":"quantitative","scale":{"domain":[-24.3,36.9],"nice":false,"zero":false},"axis":{"values":[-20,-10,0,10,20,30],"title":"IMF [nT]"}}
 },
 "layer":[
  {"data":{"name":"imf"},"mark":{"type":"line","strokeWidth":1.4},
   "encoding":{
    "color":{"field":"s","type":"nominal","scale":{"domain":["Bt","Bz"],"range":["black","#ff0000"]},
      "legend":{"title":null,"orient":"top-right","offset":8,"symbolType":"stroke","symbolSize":625,"symbolStrokeWidth":1.5,"labelFontSize":10,"labelFont":"DejaVu Sans","labelColor":"#333","strokeColor":"#444","fillColor":"white","padding":10,"rowPadding":11,"labelOffset":16}}
   }},
  {"data":{"values":[{"t":199.883,"v":15,"s":"B"}]},"mark":{"type":"text","fontSize":31,"fontStyle":"italic","color":"black"},"encoding":{"text":{"field":"s"}}},
  {"data":{"values":[{"t":200.044,"v":15,"s":"t"}]},"mark":{"type":"text","fontSize":20,"fontStyle":"italic","dy":6,"color":"black"},"encoding":{"text":{"field":"s"}}},
  {"data":{"values":[{"t":200.248,"v":15,"s":"[nT]"}]},"mark":{"type":"text","fontSize":30,"color":"black"},"encoding":{"text":{"field":"s"}}},
  {"data":{"values":[{"t":199.883,"v":-20.8,"s":"B"}]},"mark":{"type":"text","fontSize":31,"fontStyle":"italic","color":"#ff0000"},"encoding":{"text":{"field":"s"}}},
  {"data":{"values":[{"t":200.044,"v":-20.8,"s":"z"}]},"mark":{"type":"text","fontSize":20,"fontStyle":"italic","dy":6,"color":"#ff0000"},"encoding":{"text":{"field":"s"}}},
  {"data":{"values":[{"t":200.27,"v":-20.8,"s":"[nT]"}]},"mark":{"type":"text","fontSize":30,"color":"#ff0000"},"encoding":{"text":{"field":"s"}}}
 ]
},
{
 "width":792,"height":169,
 "encoding":{
  "x":{"field":"t","type":"quantitative","scale":{"domain":[196.03,201.81],"nice":false,"zero":false},"axis":{"values":[197,198,199,200,201],"labels":false,"title":null}},
  "y":{"field":"v","type":"quantitative","scale":{"domain":[286,725],"nice":false,"zero":false},"axis":{"values":[300,400,500,600,700],"title":"Vsw [km/s]"}}
 },
 "layer":[
  {"data":{"name":"vsw"},"mark":{"type":"line","strokeWidth":1.7,"color":"black"}},
  {"data":{"values":[{"t":200.248,"v":624.7,"s":"V"}]},"mark":{"type":"text","fontSize":31,"fontStyle":"italic","color":"black"},"encoding":{"text":{"field":"s"}}},
  {"data":{"values":[{"t":200.409,"v":624.7,"s":"sw"}]},"mark":{"type":"text","fontSize":20,"fontStyle":"italic","dy":6,"color":"black"},"encoding":{"text":{"field":"s"}}},
  {"data":{"values":[{"t":200.759,"v":624.7,"s":"[km/s]"}]},"mark":{"type":"text","fontSize":30,"color":"black"},"encoding":{"text":{"field":"s"}}}
 ]
},
{
 "width":792,"height":167,
 "encoding":{
  "x":{"field":"t","type":"quantitative","scale":{"domain":[196.03,201.81],"nice":false,"zero":false},"axis":{"values":[197,198,199,200,201],"format":"d","title":"UT day of 2012","titleFontSize":13,"labelFontSize":11,"labelPadding":7,"titlePadding":3}},
  "y":{"field":"v","type":"quantitative","scale":{"domain":[-1.6,42.7],"nice":false,"zero":false},"axis":{"values":[0,10,20,30,40],"title":"Δ₁₀Nₚ [cm⁻³]"}}
 },
 "layer":[
  {"data":{"name":"np"},"mark":{"type":"line","strokeWidth":1.3,"color":"black"}},
  {"data":{"values":[{"t":199.504,"v":24.7,"s":"Δ"}]},"mark":{"type":"text","fontSize":37,"color":"black"},"encoding":{"text":{"field":"s"}}},
  {"data":{"values":[{"t":200.365,"v":24.7,"s":"[cm"},{"t":201.036,"v":24.7,"s":"/min]"}]},"mark":{"type":"text","fontSize":30,"color":"black"},"encoding":{"text":{"field":"s"}}},
  {"data":{"values":[{"t":199.949,"v":24.7,"s":"N"}]},"mark":{"type":"text","fontSize":31,"fontStyle":"italic","color":"black"},"encoding":{"text":{"field":"s"}}},
  {"data":{"values":[{"t":199.715,"v":24.7,"s":"10"}]},"mark":{"type":"text","fontSize":20,"dy":6,"color":"black"},"encoding":{"text":{"field":"s"}}},
  {"data":{"values":[{"t":200.117,"v":24.7,"s":"p"}]},"mark":{"type":"text","fontSize":20,"fontStyle":"italic","dy":6,"color":"black"},"encoding":{"text":{"field":"s"}}},
  {"data":{"values":[{"t":200.759,"v":24.7,"s":"−3"}]},"mark":{"type":"text","fontSize":20,"dy":-13,"color":"black"},"encoding":{"text":{"field":"s"}}}
 ]
},
{
 "width":792,"height":563,
 "view":{"stroke":null},
 "layer":[
  {"data":{"name":"arrows"},"mark":{"type":"rule","strokeWidth":2.5,"color":"black"},
   "encoding":{
    "x":{"field":"x0","type":"quantitative","scale":{"domain":[72,864],"nice":false,"zero":false},"axis":null},
    "y":{"field":"y0","type":"quantitative","scale":{"domain":[564,1127],"nice":false,"zero":false,"reverse":true},"axis":null},
    "x2":{"field":"x1"},"y2":{"field":"y1"}
   }},
  {"data":{"name":"nodes"},"mark":{"type":"rect","fill":"white","stroke":"black","strokeWidth":3},
   "encoding":{"x":{"field":"x0","type":"quantitative"},"x2":{"field":"x1"},"y":{"field":"y0","type":"quantitative"},"y2":{"field":"y1"}}},
  {"data":{"name":"cross"},"mark":{"type":"rule","strokeWidth":1.2,"color":"#bbbbbb"},
   "encoding":{"x":{"field":"x0","type":"quantitative"},"x2":{"field":"x1"},"y":{"field":"y0","type":"quantitative"},"y2":{"field":"y1"}}},
  {"data":{"name":"sig"},"mark":{"type":"line","strokeWidth":2.5,"color":"black","interpolate":"monotone"},
   "encoding":{"x":{"field":"x","type":"quantitative"},"y":{"field":"y","type":"quantitative"},"detail":{"field":"n"}}},
  {"data":{"name":"arrows"},"transform":[{"calculate":"atan2(datum.x1-datum.x0, datum.y0-datum.y1)*180/PI","as":"ang"}],
   "mark":{"type":"point","shape":"M0,0L-0.75,1.7L0,1.25L0.75,1.7Z","filled":true,"color":"black","opacity":1,"size":676},
   "encoding":{"x":{"field":"x1","type":"quantitative"},"y":{"field":"y1","type":"quantitative"},"angle":{"field":"ang","type":"quantitative","scale":null}}},
  {"data":{"values":[{"x":0,"y":0}]},"mark":{"type":"point","opacity":0,"size":1},
   "encoding":{"x":{"field":"x","type":"quantitative"},"y":{"field":"y","type":"quantitative"}}}
 ]
},
{
 "hconcat":[
  {"width":42,"height":160,"view":{"stroke":null},"data":{"values":[{"a":1}]},"mark":{"type":"point","opacity":0},"encoding":{}},
  {
   "width":758,"height":160,
   "title":{"text":"OUTPUT: GIC proxy","fontSize":38,"font":"DejaVu Sans","fontWeight":"normal","anchor":"end","frame":"group","dx":33,"offset":-29,"baseline":"alphabetic","color":"black"},
   "encoding":{
    "x":{"field":"t","type":"quantitative","scale":{"domain":[196.039,201.79],"nice":false,"zero":false},"axis":{"values":[197,198,199,200,201],"labels":false,"title":null}},
    "y":{"field":"v","type":"quantitative","scale":{"domain":[-1.7,33.8],"nice":false,"zero":false},"axis":{"values":[0,5,10,15,20,25,30],"title":"Sₓᵐ⁻¹⁰ [nT/min]"}}
   },
   "layer":[
    {"data":{"name":"sx"},"mark":{"type":"line","strokeWidth":1.3},
     "encoding":{
      "color":{"field":"s","type":"nominal","scale":{"domain":["Measured","Predicted"],"range":["black","#ff0000"]},
        "legend":{"title":null,"orient":"top-right","offset":8,"symbolType":"stroke","symbolSize":625,"symbolStrokeWidth":1.5,"labelFontSize":13,"labelFont":"DejaVu Sans","labelColor":"#222","strokeColor":"#444","fillColor":"white","padding":7,"rowPadding":7,"labelOffset":14}}
     }},
    {"data":{"values":[{"t":199.142,"v":13.2,"s":"S"}]},"mark":{"type":"text","fontSize":31,"fontStyle":"italic","color":"black"},"encoding":{"text":{"field":"s"}}},
    {"data":{"values":[{"t":199.286,"v":13.2,"s":"x"}]},"mark":{"type":"text","fontSize":20,"fontStyle":"italic","dy":6,"color":"black"},"encoding":{"text":{"field":"s"}}},
    {"data":{"values":[{"t":199.514,"v":13.2,"s":"[nT/min]"}]},"mark":{"type":"text","fontSize":30,"color":"black"},"encoding":{"text":{"field":"s"}}},
    {"data":{"values":[{"t":202.078,"t2":202.2,"v":5.84,"v2":-3}]},"mark":{"type":"rect","color":"#1f5080"},"encoding":{"x2":{"field":"t2"},"y2":{"field":"v2"}}}
   ]
  }
 ],
 "spacing":0,
 "bounds":"flush",
 "resolve":{"scale":{"x":"independent","y":"independent","color":"independent"},"legend":{"color":"independent"}}
}
]
}
